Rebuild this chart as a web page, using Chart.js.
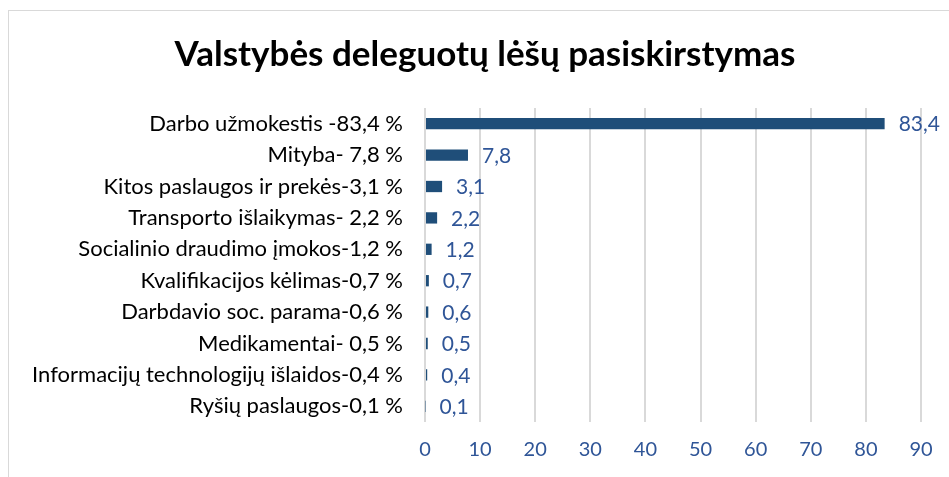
<!DOCTYPE html>
<html>
<head>
<meta charset="utf-8">
<script src="https://cdn.jsdelivr.net/npm/chart.js@4.4.1/dist/chart.umd.min.js"></script>
<style>
  html, body { margin: 0; padding: 0; background: #fff; }
  #wrap { position: relative; width: 949px; height: 477px; overflow: hidden; }
  #frame { position: absolute; left: 8px; top: 10px; width: 980px; height: 500px; border: 1px solid #d9d9d9; }
  canvas { position: absolute; left: 0; top: 0; }
</style>
</head>
<body>
<div id="wrap">
  <div id="frame"></div>
  <canvas id="chart" width="949" height="477"></canvas>
</div>
<script>
/* --- Datos --- */
const titulo = 'Valstybės deleguotų lėšų pasiskirstymas';
const categorias = [
  'Darbo užmokestis -83,4 %',
  'Mityba- 7,8 %',
  'Kitos paslaugos ir prekės-3,1 %',
  'Transporto išlaikymas- 2,2 %',
  'Socialinio draudimo įmokos-1,2 %',
  'Kvalifikacijos kėlimas-0,7 %',
  'Darbdavio soc. parama-0,6 %',
  'Medikamentai- 0,5 %',
  'Informacijų technologijų išlaidos-0,4 %',
  'Ryšių paslaugos-0,1 %'
];
const valores = [83.4, 7.8, 3.1, 2.2, 1.2, 0.7, 0.6, 0.5, 0.4, 0.1];
const ticksX = [0, 10, 20, 30, 40, 50, 60, 70, 80, 90];

const AZUL = '#1f4e79';
const FUENTE = 'Lato, "Noto Sans", sans-serif';

/* --- Título centrado sobre el marco del gráfico --- */
const tituloPlugin = {
  id: 'tituloMarco',
  afterDraw(chart) {
    const ctx = chart.ctx;
    ctx.save();
    ctx.font = 'bold 35px ' + FUENTE;
    ctx.fillStyle = '#000';
    ctx.textAlign = 'center';
    ctx.textBaseline = 'middle';
    ctx.fillText(titulo, 485, 55);
    ctx.restore();
  }
};

/* --- Etiquetas de valor al final de cada barra --- */
const etiquetasPlugin = {
  id: 'etiquetas',
  afterDatasetsDraw(chart) {
    const ctx = chart.ctx;
    const meta = chart.getDatasetMeta(0);
    ctx.save();
    ctx.font = '21px ' + FUENTE;
    ctx.fillStyle = '#2f5597';
    ctx.textAlign = 'left';
    ctx.textBaseline = 'middle';
    meta.data.forEach((bar, i) => {
      const txt = valores[i].toFixed(1).replace('.', ',');
      ctx.fillText(txt, bar.x + 14, bar.y + 1);
    });
    ctx.restore();
  }
};

new Chart(document.getElementById('chart'), {
  type: 'bar',
  data: {
    labels: categorias,
    datasets: [{
      data: valores,
      backgroundColor: AZUL,
      categoryPercentage: 1,
      barPercentage: 0.36
    }]
  },
  plugins: [etiquetasPlugin, tituloPlugin],
  options: {
    indexAxis: 'y',
    responsive: false,
    animation: false,
    layout: { padding: { left: 0, right: 28, top: 108, bottom: 0 } },
    plugins: {
      legend: { display: false },
      tooltip: { enabled: false },
      title: { display: false }
    },
    scales: {
      x: {
        min: 0,
        max: 90,
        afterBuildTicks: s => { s.ticks = ticksX.map(v => ({ value: v })); },
        afterFit: s => { s.height = 55; },
        grid: { color: '#d9d9d9', lineWidth: 2, drawTicks: false },
        border: { display: false },
        ticks: { color: '#2f5597', font: { family: FUENTE, size: 20 }, padding: 16 }
      },
      y: {
        afterFit: s => { s.width = 425; },
        grid: { display: false, drawTicks: false },
        border: { display: false },
        ticks: { color: '#000', font: { family: FUENTE, size: 22 }, padding: 22 }
      }
    }
  }
});
</script>
</body>
</html>
